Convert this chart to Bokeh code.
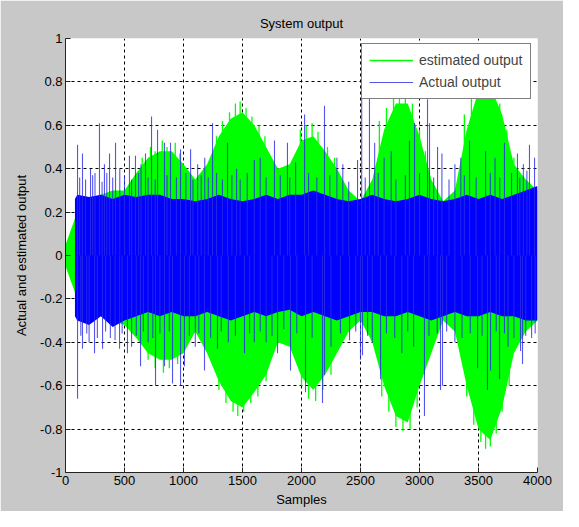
from bokeh.plotting import figure
from bokeh.models import Range1d, FixedTicker, Legend, LegendItem, ColumnDataSource
from bokeh.embed import file_html
from bokeh.resources import INLINE

# ---------------- data ----------------
# estimated output: envelope of the dense green oscillation, every 100 samples
est_x = [0, 100, 200, 300, 400, 500, 600, 700, 800, 900, 1000,
         1100, 1200, 1300, 1400, 1500, 1600, 1700, 1800, 1900, 2000,
         2100, 2200, 2300, 2400, 2500, 2600, 2700, 2800, 2900, 3000,
         3100, 3200, 3300, 3400, 3500, 3600, 3700, 3800, 3900, 4000]
est_top = [0.05, 0.20, 0.25, 0.28, 0.30, 0.30, 0.38, 0.45, 0.48, 0.48, 0.42,
           0.35, 0.42, 0.55, 0.63, 0.66, 0.60, 0.50, 0.40, 0.42, 0.53,
           0.55, 0.48, 0.40, 0.30, 0.25, 0.35, 0.58, 0.70, 0.70, 0.55,
           0.35, 0.25, 0.30, 0.58, 0.76, 0.78, 0.65, 0.42, 0.35, 0.30]
est_bot = [-0.05, -0.20, -0.25, -0.28, -0.30, -0.32, -0.38, -0.45, -0.48, -0.48, -0.45,
           -0.35, -0.45, -0.58, -0.67, -0.70, -0.63, -0.55, -0.40, -0.42, -0.56,
           -0.62, -0.55, -0.45, -0.35, -0.30, -0.40, -0.60, -0.74, -0.77, -0.60,
           -0.45, -0.30, -0.35, -0.60, -0.80, -0.85, -0.70, -0.45, -0.35, -0.30]
# estimated output: hairlines sticking out of the green envelope
est_spike_x = [650, 720, 760, 820, 860, 930, 970,
               1280, 1330, 1390, 1440, 1480, 1530, 1580, 1640, 1690,
               1990, 2040, 2090, 2140, 2220, 2280,
               2660, 2720, 2780, 2830, 2880, 2940, 3000, 3050,
               3380, 3440, 3500, 3560, 3620, 3680, 3740, 3800,
               700, 760, 830, 880, 950,
               1300, 1360, 1420, 1460, 1510, 1570, 1630, 1700,
               2000, 2060, 2120, 2180, 2250,
               2680, 2740, 2800, 2860, 2920, 2980, 3040,
               3400, 3460, 3520, 3560, 3600, 3650, 3700, 3760]
est_spike_y = [0.45, 0.50, 0.48, 0.53, 0.50, 0.52, 0.47,
               0.55, 0.62, 0.66, 0.70, 0.71, 0.68, 0.64, 0.60, 0.55,
               0.58, 0.60, 0.61, 0.57, 0.50, 0.45,
               0.62, 0.68, 0.73, 0.75, 0.74, 0.70, 0.58, 0.48,
               0.65, 0.74, 0.80, 0.82, 0.80, 0.70, 0.58, 0.45,
               -0.48, -0.52, -0.54, -0.52, -0.50,
               -0.62, -0.68, -0.72, -0.74, -0.72, -0.68, -0.65, -0.58,
               -0.60, -0.66, -0.67, -0.62, -0.55,
               -0.65, -0.72, -0.79, -0.81, -0.80, -0.70, -0.55,
               -0.65, -0.78, -0.86, -0.89, -0.88, -0.82, -0.72, -0.60]

# actual output: dense blue core envelope
act_x = [80, 100, 200, 300, 400, 500, 600, 700, 800, 900, 1000,
         1100, 1200, 1300, 1400, 1500, 1600, 1700, 1800, 1900, 2000,
         2100, 2200, 2300, 2400, 2500, 2600, 2700, 2800, 2900, 3000,
         3100, 3200, 3300, 3400, 3500, 3600, 3700, 3800, 3900, 4000]
act_top = [0.26, 0.28, 0.27, 0.28, 0.26, 0.28, 0.27, 0.28, 0.28, 0.26, 0.26,
           0.25, 0.26, 0.28, 0.26, 0.25, 0.26, 0.28, 0.26, 0.28, 0.28,
           0.30, 0.28, 0.26, 0.25, 0.26, 0.28, 0.26, 0.25, 0.26, 0.28,
           0.26, 0.25, 0.26, 0.28, 0.26, 0.28, 0.26, 0.28, 0.30, 0.32]
act_bot = [-0.28, -0.30, -0.32, -0.28, -0.33, -0.30, -0.28, -0.26, -0.28, -0.26, -0.28,
           -0.28, -0.26, -0.28, -0.30, -0.28, -0.26, -0.28, -0.26, -0.25, -0.28,
           -0.26, -0.28, -0.30, -0.28, -0.26, -0.26, -0.28, -0.28, -0.26, -0.28,
           -0.30, -0.28, -0.26, -0.28, -0.28, -0.26, -0.28, -0.28, -0.30, -0.30]

# actual output: lines that stand out of the core
spike_x = [102, 144, 212, 250, 288, 330, 373, 424, 460, 542, 593, 640, 678, 729, 780,
           839, 890, 975, 1060, 1120, 1180, 1246, 1373, 1450, 1600, 1650, 1771, 1881,
           1950, 2026, 2195, 2300, 2350, 2475, 2510, 2576, 2620, 2700, 2760, 2915, 2958,
           3068, 3085, 3153, 3190, 3300, 3350, 3424, 3560, 3640, 3720, 3830, 3880, 3932, 3975,
           120, 170, 230, 310, 350, 400, 500, 560, 620, 700, 760, 860, 940, 1020, 1080,
           1150, 1210, 1280, 1330, 1410, 1480, 1540, 1700, 1820, 1900, 2060, 2130, 2240,
           2400, 2540, 2650, 2800, 2880, 3000, 3120, 3250, 3380, 3480, 3600, 3680, 3780,
           3850, 3910,
           102, 144, 200, 246, 314, 380, 458, 525, 560, 636, 700, 763, 839, 907, 975,
           1008, 1100, 1178, 1288, 1380, 1517, 1600, 1700, 1797, 1907, 2034, 2178, 2195,
           2250, 2407, 2500, 2517, 2600, 2670, 2850, 2950, 3042, 3178, 3195, 3300, 3492,
           3576, 3602, 3678, 3750, 3856, 3873, 3950,
           130, 180, 270, 340, 420, 480, 600, 660, 740, 800, 880, 1050, 1130, 1230, 1320,
           1440, 1560, 1650, 1750, 1850, 1960, 2090, 2330, 2460, 2560, 2720, 2790, 2900,
           3080, 3150, 3230, 3360, 3430, 3530, 3650, 3720, 3800, 3900, 3980]
spike_y = [0.51, 0.47, 0.40, 0.38, 0.61, 0.42, 0.47, 0.52, 0.40, 0.46, 0.46, 0.42, 0.47, 0.64, 0.58,
           0.52, 0.52, 0.49, 0.49, 0.42, 0.45, 0.61, 0.52, 0.40, 0.44, 0.45, 0.53, 0.52,
           0.43, 0.65, 0.69, 0.45, 0.42, 0.44, 0.75, 0.75, 0.52, 0.45, 0.48, 0.53, 0.61,
           0.72, 0.61, 0.50, 0.47, 0.42, 0.45, 0.53, 0.48, 0.45, 0.52, 0.47, 0.42, 0.51, 0.45,
           0.36, 0.35, 0.37, 0.34, 0.38, 0.36, 0.37, 0.35, 0.38, 0.36, 0.35, 0.37, 0.36, 0.38, 0.35,
           0.37, 0.36, 0.38, 0.35, 0.37, 0.35, 0.38, 0.36, 0.37, 0.36, 0.38, 0.36, 0.37,
           0.34, 0.36, 0.38, 0.35, 0.37, 0.38, 0.36, 0.35, 0.37, 0.36, 0.38, 0.36, 0.38,
           0.36, 0.39,
           -0.66, -0.43, -0.40, -0.45, -0.43, -0.38, -0.43, -0.45, -0.42, -0.51, -0.40, -0.60, -0.51, -0.59, -0.60,
           -0.51, -0.42, -0.53, -0.43, -0.40, -0.45, -0.40, -0.40, -0.45, -0.53, -0.63, -0.68, -0.55,
           -0.42, -0.39, -0.48, -0.46, -0.40, -0.57, -0.45, -0.42, -0.74, -0.62, -0.60, -0.40, -0.52,
           -0.62, -0.53, -0.57, -0.42, -0.44, -0.50, -0.38,
           -0.37, -0.36, -0.38, -0.35, -0.39, -0.36, -0.37, -0.35, -0.38, -0.36, -0.35, -0.37, -0.36, -0.38, -0.35,
           -0.37, -0.36, -0.35, -0.37, -0.34, -0.36, -0.38, -0.36, -0.35, -0.37, -0.36, -0.38, -0.35,
           -0.37, -0.36, -0.35, -0.38, -0.36, -0.37, -0.35, -0.36, -0.38, -0.37, -0.36]

x_ticks = [0, 500, 1000, 1500, 2000, 2500, 3000, 3500, 4000]
y_ticks = [-1, -0.8, -0.6, -0.4, -0.2, 0, 0.2, 0.4, 0.6, 0.8, 1]
y_tick_labels = ["-1", "-0.8", "-0.6", "-0.4", "-0.2", "0", "0.2", "0.4", "0.6", "0.8", "1"]
series_names = ["estimated output", "Actual output"]
series_colors = ["#00ff00", "#0000ff"]

FONT = "Liberation Sans"

# ---------------- figure ----------------
p = figure(width=563, height=511, output_backend="svg", toolbar_location=None,
           x_range=Range1d(0, 4000), y_range=Range1d(-1, 1),
           title="System output",
           min_border_left=65, min_border_right=26, min_border_top=38, min_border_bottom=39)
p.background_fill_color = "white"
p.border_fill_color = "#c8c8c8"
p.outline_line_color = None

p.title.align = "center"
p.title.text_font = FONT
p.title.text_font_size = "13px"
p.title.text_font_style = "normal"
p.title.text_color = "black"
p.title.standoff = 16

for ax in (p.xaxis[0], p.yaxis[0]):
    ax.axis_line_color = "#222222"
    ax.major_tick_line_color = "#222222"
    ax.major_tick_in = 5
    ax.major_tick_out = 0
    ax.minor_tick_line_color = None
    ax.major_label_text_font = FONT
    ax.major_label_text_font_size = "13px"
    ax.major_label_text_color = "black"
    ax.axis_label_text_font = FONT
    ax.axis_label_text_font_size = "13px"
    ax.axis_label_text_font_style = "normal"
    ax.axis_label_text_color = "black"

p.xaxis.ticker = FixedTicker(ticks=x_ticks)
p.yaxis.ticker = FixedTicker(ticks=y_ticks)
p.yaxis.major_label_overrides = {t: l for t, l in zip(y_ticks, y_tick_labels)}
p.xaxis.axis_label = "Samples"
p.yaxis.axis_label = "Actual and estimated output"
p.xaxis.major_label_standoff = 3
p.yaxis.major_label_standoff = 3
p.xaxis.axis_label_standoff = 4
p.yaxis.axis_label_standoff = 8

p.grid.grid_line_color = "black"
p.grid.grid_line_dash = "3 3"
p.grid.grid_line_width = 1

# ---------------- data marks ----------------
est_src = ColumnDataSource(dict(x=est_x, top=est_top, bot=est_bot))
est_spk = ColumnDataSource(dict(x=est_spike_x, y=est_spike_y, y0=[0] * len(est_spike_x)))
act_src = ColumnDataSource(dict(x=act_x, top=act_top, bot=act_bot))
spk_src = ColumnDataSource(dict(x=spike_x, y=spike_y, y0=[0] * len(spike_x)))

p.varea(x="x", y1="bot", y2="top", source=est_src, fill_color=series_colors[0])
r_est = p.segment(x0="x", y0="y0", x1="x", y1="y", source=est_spk,
                  line_color=series_colors[0], line_width=1.3)
p.varea(x="x", y1="bot", y2="top", source=act_src, fill_color=series_colors[1])
r_act = p.segment(x0="x", y0="y0", x1="x", y1="y", source=spk_src,
                  line_color="#2a2ae8", line_width=1.1, line_alpha=0.8)

legend = Legend(items=[LegendItem(label=series_names[0], renderers=[r_est]),
                       LegendItem(label=series_names[1], renderers=[r_act])],
                location=(296, 373))
legend.margin = 0
legend.padding = 7
legend.spacing = 4
legend.glyph_width = 44
legend.glyph_height = 18
legend.label_height = 18
legend.label_standoff = 6
legend.label_text_font = FONT
legend.label_text_font_size = "14px"
legend.border_line_color = "black"
legend.border_line_width = 1
legend.background_fill_color = "white"
legend.background_fill_alpha = 1
p.add_layout(legend, "center")

open("out.html", "w").write(file_html(p, INLINE))
